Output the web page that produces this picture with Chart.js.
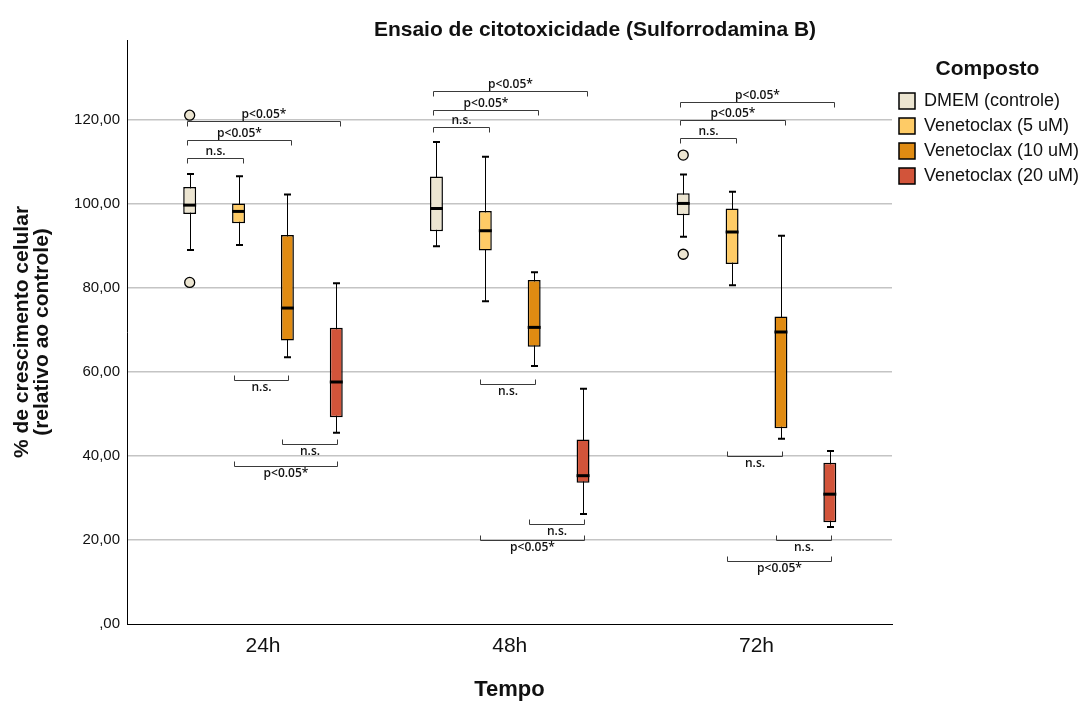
<!DOCTYPE html>
<html lang="pt">
<head>
<meta charset="utf-8">
<title>Ensaio de citotoxicidade (Sulforrodamina B)</title>
<script src="https://cdn.jsdelivr.net/npm/chart.js@4.4.1/dist/chart.umd.min.js"></script>
<style>
  html, body { margin: 0; padding: 0; background: #fff; }
  #wrap { width: 1083px; height: 701px; }
</style>
</head>
<body>
<div id="wrap"><canvas id="myChart" width="1083" height="701"></canvas></div>
<script>
// Tempos e compostos
const categorias = ['24h', '48h', '72h'];
const compostos = ['DMEM (controle)', 'Venetoclax (5 uM)', 'Venetoclax (10 uM)', 'Venetoclax (20 uM)'];
const cores = ['#ECE5D1', '#FECB66', '#E08B12', '#D2543A'];

// Resumo de cada boxplot por tempo: [minimo, Q1, mediana, Q3, maximo]
const dmem = [[89.0, 97.6, 99.7, 104.0, 107.1], [89.9, 93.5, 98.9, 106.5, 114.7], [92.2, 97.3, 100.1, 102.5, 107.0]];
const veneto5 = [[90.2, 95.4, 98.2, 100.1, 106.6], [76.8, 88.9, 93.6, 98.3, 111.2], [80.6, 85.7, 93.3, 98.9, 102.9]];
const veneto10 = [[63.5, 67.5, 75.2, 92.6, 102.2], [61.4, 66.0, 70.6, 81.9, 83.7], [44.1, 46.6, 69.5, 73.2, 92.4]];
const veneto20 = [[45.5, 49.2, 57.6, 70.5, 81.1], [26.2, 33.6, 35.3, 43.9, 56.0], [23.1, 24.2, 30.9, 38.4, 41.2]];

// Pontos atipicos (circulos)
const outDmem = [[121.1, 81.3], [], [111.6, 88.0]];
const outVeneto5 = [[], [], []];
const outVeneto10 = [[], [], []];
const outVeneto20 = [[], [], []];

// Ticks do eixo Y
const yTicks = [0, 20, 40, 60, 80, 100, 120];

// Comparacoes: [tempo, grupo A, grupo B, altura (%), texto, lado]
const comparacoes = [
    [0, 0, 1, 111.0, 'n.s.', 'top'],
    [0, 0, 2, 115.3, 'p<0.05*', 'top'],
    [0, 0, 3, 119.8, 'p<0.05*', 'top'],
    [0, 1, 2, 58.0, 'n.s.', 'bottom'],
    [0, 2, 3, 42.8, 'n.s.', 'bottom'],
    [0, 1, 3, 37.5, 'p<0.05*', 'bottom'],
    [1, 0, 1, 118.2, 'n.s.', 'top'],
    [1, 0, 2, 122.3, 'p<0.05*', 'top'],
    [1, 0, 3, 126.8, 'p<0.05*', 'top'],
    [1, 1, 2, 57.2, 'n.s.', 'bottom'],
    [1, 2, 3, 23.8, 'n.s.', 'bottom'],
    [1, 1, 3, 20.1, 'p<0.05*', 'bottom'],
    [2, 0, 1, 115.6, 'n.s.', 'top'],
    [2, 0, 2, 119.9, 'p<0.05*', 'top'],
    [2, 0, 3, 124.3, 'p<0.05*', 'top'],
    [2, 1, 2, 40.1, 'n.s.', 'bottom'],
    [2, 2, 3, 20.1, 'n.s.', 'bottom'],
    [2, 1, 3, 15.0, 'p<0.05*', 'bottom']
];

const resumos = [dmem, veneto5, veneto10, veneto20];
const atipicos = [outDmem, outVeneto5, outVeneto10, outVeneto20];

const fonte = '"Liberation Sans", Arial, sans-serif';

// Plugin que desenha bigodes, medianas, pontos, colchetes e titulo
const boxplotPlugin = {
    id: 'boxplot',
    beforeDatasetsDraw(chart) {
        const c = chart.ctx;
        const y = chart.scales.y;
        c.save();
        c.strokeStyle = '#000';
        chart.data.datasets.forEach((ds, i) => {
            chart.getDatasetMeta(i).data.forEach((bar, j) => {
                const s = resumos[i][j];
                const x = Math.round(bar.x) + 0.5;
                const yMin = y.getPixelForValue(s[0]);
                const yMax = y.getPixelForValue(s[4]);
                c.lineWidth = 1;
                c.beginPath();
                c.moveTo(x, yMin);
                c.lineTo(x, yMax);
                c.stroke();
                c.lineWidth = 2;
                c.beginPath();
                c.moveTo(x - 3.5, yMin);
                c.lineTo(x + 3.5, yMin);
                c.moveTo(x - 3.5, yMax);
                c.lineTo(x + 3.5, yMax);
                c.stroke();
            });
        });
        c.restore();
    },
    afterDatasetsDraw(chart) {
        const c = chart.ctx;
        const y = chart.scales.y;
        c.save();
        chart.data.datasets.forEach((ds, i) => {
            chart.getDatasetMeta(i).data.forEach((bar, j) => {
                // mediana
                const yMed = y.getPixelForValue(resumos[i][j][2]);
                c.strokeStyle = '#000';
                c.lineWidth = 3;
                c.beginPath();
                c.moveTo(bar.x - bar.width / 2, yMed);
                c.lineTo(bar.x + bar.width / 2, yMed);
                c.stroke();
                // atipicos
                atipicos[i][j].forEach(v => {
                    c.beginPath();
                    c.arc(bar.x, y.getPixelForValue(v), 5, 0, Math.PI * 2);
                    c.fillStyle = cores[i];
                    c.fill();
                    c.lineWidth = 1.3;
                    c.stroke();
                });
            });
        });
        // colchetes de significancia
        c.font = '600 12px "Open Sans", sans-serif';
        c.textAlign = 'center';
        c.lineWidth = 1;
        comparacoes.forEach(([t, a, b, v, txt, lado]) => {
            const xa = chart.getDatasetMeta(a).data[t].x;
            const xb = chart.getDatasetMeta(b).data[t].x;
            const yv = Math.round(y.getPixelForValue(v)) + 0.5;
            c.strokeStyle = '#3a3a3a';
            c.fillStyle = '#111';
            c.beginPath();
            if (lado === 'top') {
                const x1 = Math.round(xa - 3) + 0.5, x2 = Math.round(xb + 4) + 0.5;
                c.moveTo(x1, yv + 5); c.lineTo(x1, yv); c.lineTo(x2, yv); c.lineTo(x2, yv + 5);
                c.stroke();
                c.textBaseline = 'bottom';
                c.fillText(txt, (x1 + x2) / 2, yv - 1);
            } else {
                const x1 = Math.round(xa - 5) + 0.5, x2 = Math.round(xb + 1) + 0.5;
                c.moveTo(x1, yv - 5); c.lineTo(x1, yv); c.lineTo(x2, yv); c.lineTo(x2, yv - 5);
                c.stroke();
                c.textBaseline = 'top';
                c.fillText(txt, (x1 + x2) / 2, yv + 1);
            }
        });
        c.restore();
    },
    afterDraw(chart) {
        const c = chart.ctx;
        c.save();
        c.font = 'bold 21px ' + fonte;
        c.fillStyle = '#111';
        c.textAlign = 'center';
        c.textBaseline = 'middle';
        c.fillText('Ensaio de citotoxicidade (Sulforrodamina B)', 595, 30);
        c.restore();
    }
};

const graph = document.getElementById('myChart');

new Chart(graph, {
    type: 'bar',
    data: {
        datasets: compostos.map((nome, i) => ({
            label: nome,
            data: resumos[i].map((s, j) => ({ x: j, y: [s[1], s[3]] })),
            backgroundColor: cores[i],
            borderColor: '#000',
            borderWidth: 1.5,
            borderSkipped: false,
            categoryPercentage: 0.792,
            barPercentage: 0.265
        }))
    },
    options: {
        responsive: false,
        animation: false,
        layout: { padding: { top: 40, right: 0, bottom: 0, left: 0 } },
        plugins: {
            tooltip: { enabled: false },
            legend: {
                position: 'right',
                align: 'start',
                maxWidth: 191,
                title: {
                    display: true,
                    text: 'Composto',
                    color: '#111',
                    font: { family: fonte, size: 21, weight: 'bold', lineHeight: 1 },
                    padding: { top: 19, bottom: 5 }
                },
                labels: {
                    color: '#111',
                    boxWidth: 16,
                    boxHeight: 16,
                    padding: 7,
                    font: { family: fonte, size: 18 }
                }
            }
        },
        scales: {
            x: {
                type: 'linear',
                offset: false,
                min: -0.551,
                max: 2.549,
                afterBuildTicks: scale => { scale.ticks = categorias.map((c, i) => ({ value: i })); },
                afterFit: scale => { scale.height = 77; },
                grid: { display: false, drawTicks: false, offset: false },
                border: { color: '#000', width: 1 },
                ticks: {
                    padding: 10,
                    color: '#111',
                    font: { family: fonte, size: 21 },
                    callback: v => categorias[v]
                },
                title: {
                    display: true,
                    text: 'Tempo',
                    color: '#111',
                    font: { family: fonte, size: 22, weight: 'bold', lineHeight: 1 },
                    padding: { top: 0, bottom: 0 }
                }
            },
            y: {
                min: 0,
                max: 139,
                afterBuildTicks: scale => { scale.ticks = yTicks.map(v => ({ value: v })); },
                afterFit: scale => { scale.width = 127; },
                grid: {
                    drawTicks: false,
                    lineWidth: 1.5,
                    color: c => c.tick && c.tick.value === 0 ? 'rgba(0,0,0,0)' : '#c4c4c4'
                },
                border: { color: '#000', width: 1 },
                ticks: {
                    padding: 7,
                    color: '#111',
                    font: { family: fonte, size: 15 },
                    callback: v => v === 0 ? ',00' : v.toFixed(2).replace('.', ',')
                },
                title: {
                    display: true,
                    text: ['% de crescimento celular', '(relativo ao controle)'],
                    color: '#111',
                    font: { family: fonte, size: 21, weight: 'bold', lineHeight: 0.95 },
                    padding: { top: 12, bottom: 0 }
                }
            }
        }
    },
    plugins: [boxplotPlugin]
});
</script>
</body>
</html>
